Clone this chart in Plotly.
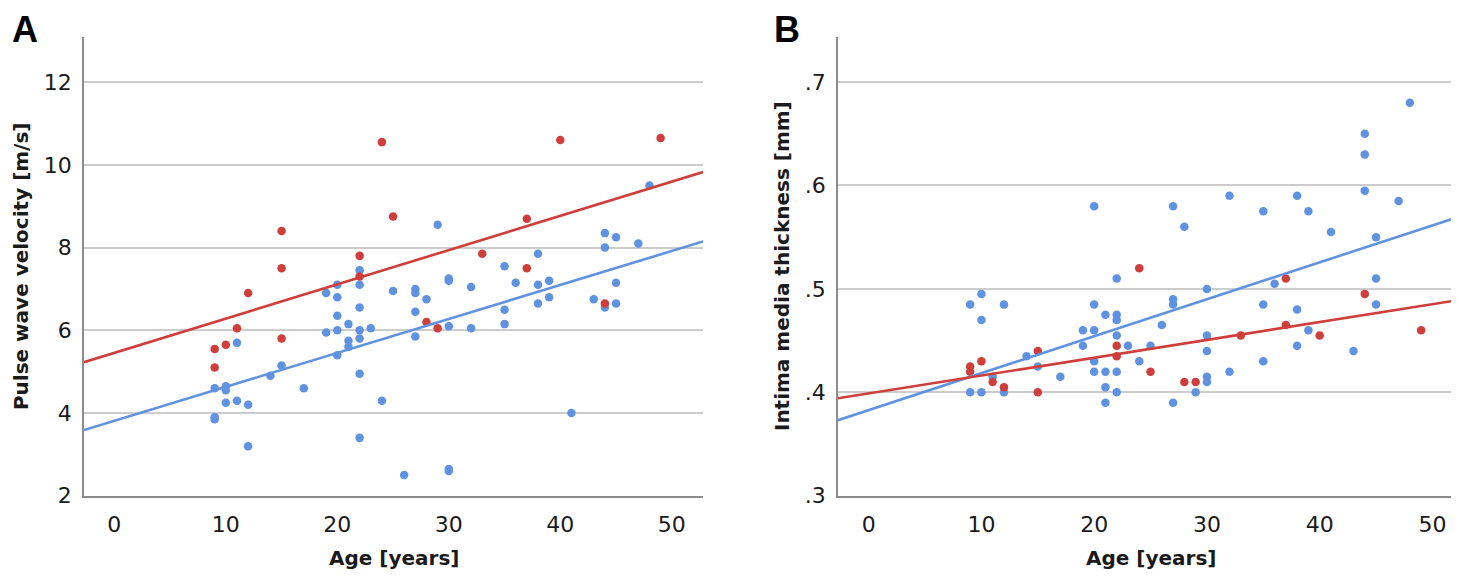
import plotly.graph_objects as go

# ---------------- data ----------------
# Panel A: Pulse wave velocity [m/s] vs age
a_blue_age = [9, 9, 9, 10, 10, 10, 11, 11, 12, 12, 14, 15, 17, 19, 19, 20, 20, 20, 20, 20,
              21, 21, 21, 22, 22, 22, 22, 22, 22, 22, 23, 24, 25, 26, 27, 27, 27, 27, 28, 29,
              30, 30, 30, 30, 30, 32, 32, 35, 35, 35, 36, 38, 38, 38, 39, 39, 41, 43, 44, 44,
              44, 45, 45, 45, 47, 48]
a_blue_pwv = [4.6, 3.9, 3.85, 4.65, 4.55, 4.25, 5.7, 4.3, 4.2, 3.2, 4.9, 5.15, 4.6, 6.9, 5.95,
              7.1, 6.8, 6.35, 6.0, 5.4, 6.15, 5.75, 5.6, 7.45, 7.1, 6.55, 6.0, 5.8, 4.95, 3.4,
              6.05, 4.3, 6.95, 2.5, 7.0, 6.9, 6.45, 5.85, 6.75, 8.55, 7.25, 7.2, 6.1, 2.65, 2.6,
              7.05, 6.05, 7.55, 6.5, 6.15, 7.15, 7.85, 7.1, 6.65, 7.2, 6.8, 4.0, 6.75, 8.35, 8.0,
              6.55, 8.25, 7.15, 6.65, 8.1, 9.5]
a_red_age = [9, 9, 10, 11, 12, 15, 15, 15, 22, 22, 24, 25, 28, 29, 33, 37, 37, 40, 44, 49]
a_red_pwv = [5.55, 5.1, 5.65, 6.05, 6.9, 8.4, 7.5, 5.8, 7.8, 7.3, 10.55, 8.75, 6.2, 6.05,
             7.85, 8.7, 7.5, 10.6, 6.65, 10.65]

# Panel B: Intima media thickness [mm] vs age
b_blue_age = [9, 9, 10, 10, 10, 11, 12, 12, 14, 15, 17, 19, 19, 20, 20, 20, 20, 20, 21, 21,
              21, 21, 22, 22, 22, 22, 22, 22, 23, 24, 25, 26, 27, 27, 27, 27, 28, 29, 30, 30,
              30, 30, 30, 32, 32, 35, 35, 35, 36, 38, 38, 38, 39, 39, 41, 43, 44, 44, 44, 45,
              45, 45, 47, 48]
b_blue_imt = [0.485, 0.40, 0.495, 0.47, 0.40, 0.415, 0.485, 0.40, 0.435, 0.425, 0.415, 0.46,
              0.445, 0.58, 0.485, 0.46, 0.43, 0.42, 0.475, 0.42, 0.405, 0.39, 0.51, 0.475,
              0.47, 0.455, 0.42, 0.40, 0.445, 0.43, 0.445, 0.465, 0.58, 0.49, 0.485, 0.39,
              0.56, 0.40, 0.50, 0.455, 0.44, 0.415, 0.41, 0.59, 0.42, 0.575, 0.485, 0.43,
              0.505, 0.59, 0.48, 0.445, 0.575, 0.46, 0.555, 0.44, 0.65, 0.63, 0.595, 0.55,
              0.51, 0.485, 0.585, 0.68]
b_red_age = [9, 9, 10, 11, 12, 15, 15, 22, 22, 24, 25, 28, 29, 33, 37, 37, 40, 44, 49]
b_red_imt = [0.425, 0.42, 0.43, 0.41, 0.405, 0.44, 0.40, 0.445, 0.435, 0.52, 0.42, 0.41,
             0.41, 0.455, 0.51, 0.465, 0.455, 0.495, 0.46]

# Fit lines: [intercept, slope]
a_blue_fit = [3.813, 0.0821]
a_red_fit = [5.455, 0.0828]
b_blue_fit = [0.3828, 0.003572]
b_red_fit = [0.3990, 0.001724]

x_tickvals = [0, 10, 20, 30, 40, 50]
a_y_tickvals = [2, 4, 6, 8, 10, 12]
b_y_tickvals = [0.3, 0.4, 0.5, 0.6, 0.7]
b_y_ticktext = [".3", ".4", ".5", ".6", ".7"]

# ---------------- style ----------------
BLUE = "#6092E2"
RED = "#CF3E3A"
FONT = "DejaVu Sans"
X_RANGE = [-2.72, 52.8]
A_Y_RANGE = [2.0, 13.1]
B_Y_RANGE = [0.3, 0.7439]

W, H = 1459, 578


def fit_line(fit, xr):
    xs = [xr[0], xr[1]]
    return xs, [fit[0] + fit[1] * x for x in xs]


fig = go.Figure()

marker_b = dict(color=BLUE, size=8.5, line=dict(width=0))
marker_r = dict(color=RED, size=8.5, line=dict(width=0))

fig.add_trace(go.Scatter(x=a_blue_age, y=a_blue_pwv, mode="markers", marker=marker_b,
                         xaxis="x", yaxis="y", showlegend=False))
fig.add_trace(go.Scatter(x=a_red_age, y=a_red_pwv, mode="markers", marker=marker_r,
                         xaxis="x", yaxis="y", showlegend=False))
lx, ly = fit_line(a_blue_fit, X_RANGE)
fig.add_trace(go.Scatter(x=lx, y=ly, mode="lines", line=dict(color=BLUE, width=2.6),
                         xaxis="x", yaxis="y", showlegend=False))
lx, ly = fit_line(a_red_fit, X_RANGE)
fig.add_trace(go.Scatter(x=lx, y=ly, mode="lines", line=dict(color=RED, width=2.6),
                         xaxis="x", yaxis="y", showlegend=False))

fig.add_trace(go.Scatter(x=b_blue_age, y=b_blue_imt, mode="markers", marker=marker_b,
                         xaxis="x2", yaxis="y2", showlegend=False))
fig.add_trace(go.Scatter(x=b_red_age, y=b_red_imt, mode="markers", marker=marker_r,
                         xaxis="x2", yaxis="y2", showlegend=False))
lx, ly = fit_line(b_blue_fit, X_RANGE)
fig.add_trace(go.Scatter(x=lx, y=ly, mode="lines", line=dict(color=BLUE, width=2.6),
                         xaxis="x2", yaxis="y2", showlegend=False))
lx, ly = fit_line(b_red_fit, X_RANGE)
fig.add_trace(go.Scatter(x=lx, y=ly, mode="lines", line=dict(color=RED, width=2.6),
                         xaxis="x2", yaxis="y2", showlegend=False))

ydom = [79 / H, (H - 29.3) / H]
xdom_a = [76 / W, 695 / W]
xdom_b = [830 / W, 1456 / W]

tickfont = dict(family=FONT, size=22, color="#1a1a1a")

common_x = dict(range=X_RANGE, tickvals=x_tickvals, showgrid=False, zeroline=False,
                showline=True, linecolor="#8c8c8c", linewidth=2, ticks="",
                tickfont=tickfont, ticklabelstandoff=8)
common_y = dict(showgrid=True, gridcolor="#cccccc", gridwidth=1.5, zeroline=False,
                showline=True, linecolor="#8c8c8c", linewidth=1.5, ticks="",
                tickfont=tickfont, ticklabelstandoff=6)

fig.update_layout(
    width=W, height=H,
    margin=dict(l=0, r=0, t=0, b=0),
    paper_bgcolor="white", plot_bgcolor="white",
    xaxis=dict(domain=xdom_a, anchor="y", **common_x),
    yaxis=dict(domain=ydom, anchor="x", range=A_Y_RANGE, tickvals=a_y_tickvals, **common_y),
    xaxis2=dict(domain=xdom_b, anchor="y2", **common_x),
    yaxis2=dict(domain=ydom, anchor="x2", range=B_Y_RANGE, tickvals=b_y_tickvals,
                ticktext=b_y_ticktext, **common_y),
)

title_font = dict(family=FONT, size=20, color="#1a1a1a")
ann = []
# x-axis titles
ann.append(dict(text="<b>Age [years]</b>", x=(xdom_a[0] + xdom_a[1]) / 2, y=1 - 563 / H,
                xref="paper", yref="paper", xanchor="center", yanchor="middle",
                showarrow=False, font=title_font))
ann.append(dict(text="<b>Age [years]</b>", x=(xdom_b[0] + xdom_b[1]) / 2, y=1 - 563 / H,
                xref="paper", yref="paper", xanchor="center", yanchor="middle",
                showarrow=False, font=title_font))
# y-axis titles
ann.append(dict(text="<b>Pulse wave velocity [m/s]</b>", x=13 / W, y=1 - 264 / H,
                xref="paper", yref="paper", xanchor="center", yanchor="middle",
                textangle=-90, showarrow=False, font=title_font))
ann.append(dict(text="<b>Intima media thickness [mm]</b>", x=774 / W, y=1 - 264 / H,
                xref="paper", yref="paper", xanchor="center", yanchor="middle",
                textangle=-90, showarrow=False, font=title_font))
# panel letters
letter_font = dict(family="Liberation Sans", size=36, color="black")
ann.append(dict(text="<b>A</b>", x=17 / W, y=1.0, xref="paper", yref="paper",
                xanchor="center", yanchor="top", borderpad=0, showarrow=False,
                font=letter_font))
ann.append(dict(text="<b>B</b>", x=779 / W, y=1.0, xref="paper", yref="paper",
                xanchor="center", yanchor="top", borderpad=0, showarrow=False,
                font=letter_font))
fig.update_layout(annotations=ann)

fig.write_html("out.html")
